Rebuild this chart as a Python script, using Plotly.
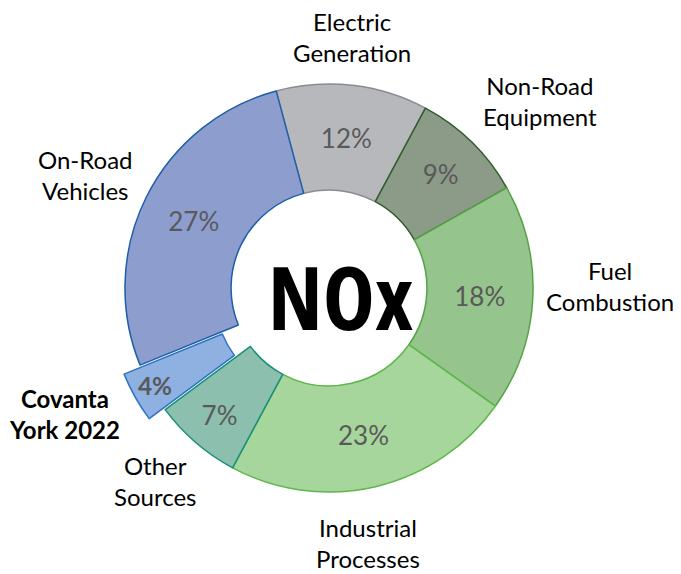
import plotly.graph_objects as go

categories = ["Electric Generation", "Non-Road Equipment", "Fuel Combustion",
              "Industrial Processes", "Other Sources", "Covanta York 2022",
              "On-Road Vehicles"]
label_lines = ["Electric<br>Generation", "Non-Road<br>Equipment", "Fuel<br>Combustion",
               "Industrial<br>Processes", "Other<br>Sources", "<b>Covanta<br>York 2022</b>",
               "On-Road<br>Vehicles"]
shares = [12, 9, 18, 23, 7, 4, 27]
pulls = [0, 0, 0, 0, 0, 0.09, 0]

fill_colors = ["#B7B8BC", "#8B9B88", "#95C48C", "#A6D69B", "#8CBFAE", "#8EB1E1", "#8C9DCE"]
line_colors = ["#8A8B90", "#2D5E27", "#55A346", "#5CB84B", "#16907A", "#2D74C2", "#1F5FA8"]
templates = ["%{value}%"] * 5 + ["<b>%{value}%</b>"] + ["%{value}%"]

# Page body has an 8px default margin, so the figure is drawn offset by 8px.
W, H, OFF = 673, 566, 8


def px(x, y):
    return (x - OFF) / W, 1 - (y - OFF) / H


# label anchor positions (reference pixels)
label_pos = [(352, 37), (540, 101), (610, 286), (368, 543), (155, 481), (64, 414), (85, 175)]

cx, cy, half = 329 - OFF, 288 - OFF, 222.4
dom_x = [(cx - half) / W, (cx + half) / W]
dom_y = [(H - cy - half) / H, (H - cy + half) / H]

fig = go.Figure(go.Pie(
    labels=categories,
    values=shares,
    hole=0.48,
    sort=False,
    direction="clockwise",
    rotation=-15,
    pull=pulls,
    texttemplate=templates,
    textposition="inside",
    insidetextorientation="horizontal",
    textfont=dict(family="Lato, Open Sans, sans-serif", size=26, color="#595959"),
    marker=dict(colors=fill_colors, line=dict(color=line_colors, width=1.5)),
    domain=dict(x=dom_x, y=dom_y),
    showlegend=False,
    hoverinfo="label+percent",
))

for txt, (x, y) in zip(label_lines, label_pos):
    ax, ay = px(x, y)
    fig.add_annotation(x=ax, y=ay, xref="paper", yref="paper", text=txt,
                       showarrow=False, xanchor="center", yanchor="middle",
                       font=dict(family="Lato, Open Sans, sans-serif", size=24, color="#000000"))

nx, ny = px(340, 296)
fig.add_annotation(x=nx, y=ny, xref="paper", yref="paper",
                   text='<span style="font-stretch:75%">NOx</span>',
                   showarrow=False, xanchor="center", yanchor="middle",
                   font=dict(family="Open Sans, Liberation Sans, sans-serif", weight=700,
                             size=88, color="#000000"))

fig.update_layout(
    width=W, height=H,
    margin=dict(l=0, r=0, t=0, b=0),
    paper_bgcolor="white", plot_bgcolor="white",
)

fig.write_html("out.html")
